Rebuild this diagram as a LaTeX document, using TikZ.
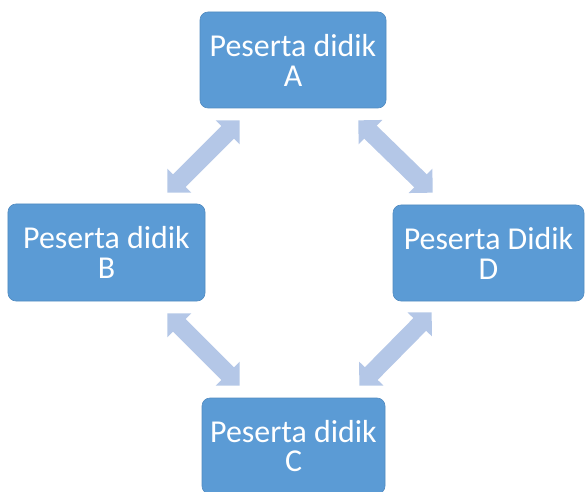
\documentclass[tikz,border=0pt]{standalone}
\usepackage{fontspec}
\setmainfont{Carlito}
\usetikzlibrary{arrows.meta,calc}
\definecolor{boxblue}{HTML}{5B9BD5}
\definecolor{arrowblue}{HTML}{B4C7E7}
\tikzset{
  pbox/.style={fill=boxblue, draw=boxblue!90!black, line width=0.6bp, rounded corners=8bp, text=white,
    align=center, inner sep=0pt, font=\fontsize{32}{30}\selectfont},
  dblarrow/.style={draw=arrowblue, line width=18bp,
    {Triangle[length=17bp,width=33bp]}-{Triangle[length=17bp,width=33bp]}}
}
\begin{document}
\begin{tikzpicture}[x=1bp,y=-1bp]
\useasboundingbox (0,0) rectangle (586,492);
\node[pbox, minimum width=186bp, minimum height=96bp] (A) at (293,60) {Peserta didik\\A};
\node[pbox, minimum width=197bp, minimum height=97bp] (B) at (106.5,252.5) {Peserta didik\\B};
\node[pbox, minimum width=191bp, minimum height=96bp] (D) at (488.5,253) {Peserta Didik\\D};
\node[pbox, minimum width=183bp, minimum height=96bp] (C) at (293.5,446) {Peserta didik\\C};
\draw[dblarrow] ($(A.south west)+(40,12)$) -- ($(B.north east)+(-38,-11)$);
\draw[dblarrow] ($(A.south east)+(-28,12)$) -- ($(D.north west)+(40,-12)$);
\draw[dblarrow] ($(B.south east)+(-38,12)$) -- ($(C.north west)+(38,-12)$);
\draw[dblarrow] ($(D.south west)+(39,11)$) -- ($(C.north east)+(-26,-12)$);
\end{tikzpicture}
\end{document}
